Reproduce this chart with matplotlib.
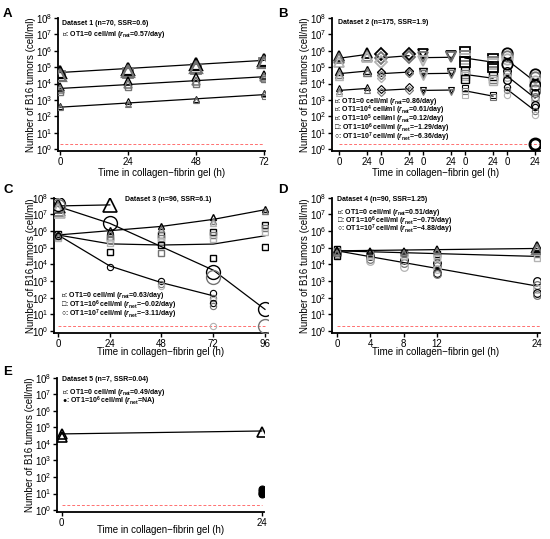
import numpy as np
import matplotlib
matplotlib.use('Agg')
import matplotlib.pyplot as plt
from matplotlib.ticker import FuncFormatter, NullLocator

plt.rcParams['font.family'] = ['Liberation Sans', 'DejaVu Sans']
plt.rcParams['mathtext.fontset'] = 'custom'
plt.rcParams['mathtext.rm'] = 'Liberation Sans'
plt.rcParams['mathtext.it'] = 'Liberation Sans:italic:bold'
plt.rcParams['mathtext.bf'] = 'Liberation Sans:bold'

# ---------------- data ----------------
DETECT = 2.0
# Panel A (Dataset 1)
A_times = [0, 24, 48, 72]
A_tri_hi = [[5e4, 3.5e4], [8e4, 5.5e4], [1.6e5, 1.0e5], [2.8e5, 2.0e5]]
A_sq_hi = [[2.8e4], [4.5e4], [8e4], [1.7e5]]
A_tri_mid = [[6e3, 4.5e3], [1.4e4, 1e4], [2.5e4, 1.5e4], [3.5e4, 2.6e4]]
A_sq_mid = [[3e3], [6e3], [9e3], [2e4]]
A_tri_lo = [[4.5e2, 3.5e2], [9e2, 6e2], [1.2e3, 1.0e3], [2.8e3, 2.2e3]]
A_sq_lo = [[3e2], [5.5e2], [9e2], [1.6e3]]
A_fit_t = [0, 72]
A_fit_hi = [4.7e4, 2.6e5]
A_fit_mid = [5.0e3, 2.6e4]
A_fit_lo = [3.6e2, 2.1e3]

# Panel B (Dataset 2): five conditions, each at 0 and 24 h
B_pos = [0, 24, 36, 60, 72, 96, 108, 132, 144, 168]
B_ticklabels = ['0', '24', '0', '24', '0', '24', '0', '24', '0', '24']
B_tri = [[[5e5, 3.5e5, 2e5], [7e5, 5e5, 4e5]],
         [[6e4, 4e4, 2.8e4], [7e4, 5e4]],
         [[5e3, 3.5e3, 2.5e3], [6e3, 4e3]]]
B_dia = [[[6e5, 3.5e5, 2e5], [6e5, 4e5]],
         [[5e4, 3.5e4, 2.3e4], [6e4, 4.5e4]],
         [[4.5e3, 3e3], [6e3, 4e3]]]
B_inv = [[[6e5, 4e5, 2.5e5], [5e5, 4e5]],
         [[5e4, 4e4, 3e4], [5e4, 4e4]],
         [[4e3, 3e3], [4e3, 3e3]]]
B_sq = [[[8e5, 5e5, 3e5, 2e5], [3e5, 2e5, 1.5e5, 1e5]],
        [[6e4, 4e4, 3e4, 2e4], [3e4, 2e4, 1.5e4]],
        [[5e3, 3.5e3, 2e3], [2e3, 1.5e3]]]
B_circ = [[[7e5, 5e5, 3e5, 1.5e5], [4e4, 2.5e4, 1.5e4, 8e3, 4e3]],
          [[6e4, 4e4, 2.5e4, 1.6e4], [2.5e3, 1.5e3, 1e3, 5e2]],
          [[6e3, 4e3, 2e3], [3.5e2, 2e2, 1.2e2]]]
B_circ_zero = [2.0]
B_fit_tri = [[3.5e5, 6e5], [4e4, 5.8e4], [3.8e3, 5e3]]
B_fit_dia = [[3.7e5, 5e5], [4e4, 5e4], [3.8e3, 4.7e3]]
B_fit_inv = [[3.8e5, 4e5], [4e4, 4.2e4], [3.8e3, 4e3]]
B_fit_sq = [[3.6e5, 2e5], [3.6e4, 2.1e4], [3.6e3, 1.7e3]]
B_fit_circ = [[2.8e5, 1.3e4], [2.9e4, 1.3e3], [4.5e3, 2.2e2]]

# Panel C (Dataset 3)
C_times = [0, 24, 48, 72, 96]
C_bigtri_t = [0, 24]
C_bigtri = [[3e7, 2e7, 1.5e7], [3.6e7]]
C_bigcirc = [[4e7, 3e7], [2.9e6], [], [3.5e3, 1.8e3], [2e1, 2]]
C_tri = [[7e5, 5e5], [1.2e6, 8e5], [2e6, 1.4e6], [7e6, 4e6, 3e6], [2.2e7, 1.5e7]]
C_sq = [[7e5, 5e5, 4e5], [4.5e5, 3e5, 2e5, 5.5e4], [5.5e5, 4e5, 2.5e5, 1.5e5, 5e4],
        [9e5, 6e5, 3.5e5, 2.5e4], [2.2e6, 1.5e6, 9e5, 1.1e5]]
C_circ = [[5e5], [7e3], [1e3, 7e2, 5e2], [2e2, 1e2, 7e1, 5e1, 3e1, 2], []]
C_fit_bigtri = [3.2e7, 3.7e7]
C_fit_bigcirc = [3e7, 2.9e6, 1.15e5, 4.5e3, 2e1]
C_fit_tri = [5.8e5, 1.05e6, 1.9e6, 5e6, 1.9e7]
C_fit_sq = [5.8e5, 1.7e5, 1.45e5, 1.65e5, 5.2e5]
C_fit_circ_t = [0, 24, 48, 72]
C_fit_circ = [5.8e5, 8e3, 8e2, 1.3e2]

# Panel D (Dataset 4)
D_times = [0, 4, 8, 12, 24]
D_tri = [[7e4, 5e4], [6e4], [6e4, 5e4], [8e4, 6e4], [1.1e5, 8e4]]
D_sq = [[8e4, 6e4, 4e4, 3e4], [5e4, 4e4, 3e4], [5e4, 4e4, 3e4], [4e4, 3e4, 2.5e4], [5e4, 4e4, 2.5e4]]
D_circ = [[5e4, 4e4], [3e4, 2e4, 1.5e4], [1.8e4, 1.2e4, 7e3], [1.2e4, 8e3, 5e3, 3e3, 2.5e3],
          [1e3, 6e2, 3.5e2, 2e2, 1.5e2]]
D_fit_t = [0, 24]
D_fit_tri = [6.5e4, 9e4]
D_fit_sq = [6.5e4, 3e4]
D_fit_circ = [6.5e4, 5e2]

# Panel E (Dataset 5)
E_times = [0, 24]
E_tri = [[4e4, 2.5e4], [5e4]]
E_dot_t = 24
E_dot = [2e1, 1.5e1, 1.1e1, 9]
E_fit = [4e4, 6e4]

GREYS = ['black', '0.45', '0.7']
XLABEL = 'Time in collagen\u2212fibrin gel (h)'
YLABEL = 'Number of B16 tumors (cell/ml)'
RNET = r'$r_{\mathbf{net}}$'


def reps(ax, times, groups, marker, ms, mew, colors=GREYS, fill='none'):
    for t, vals in zip(times, groups):
        for i, v in enumerate(vals):
            c = colors[i % len(colors)]
            ax.plot(t, v, ls='none', marker=marker, ms=ms,
                    mfc=(c if fill == 'same' else fill), mec=c, mew=mew, zorder=3)


def fit(ax, t, y):
    ax.plot(t, y, color='black', lw=0.9, zorder=2)


def setup(ax, xticks, xlabels, xlim, xdet, ylab_x, xlab_y):
    ax.set_yscale('log')
    ax.set_ylim(10 ** -0.1, 1e8)
    ax.set_yticks([10.0 ** k for k in range(9)])
    ax.yaxis.set_major_formatter(FuncFormatter(lambda v, p: r'$10^{%d}$' % round(np.log10(v))))
    ax.yaxis.set_minor_locator(NullLocator())
    ax.set_xticks(xticks)
    ax.set_xticklabels(xlabels)
    ax.set_xlim(*xlim)
    for s in ['top', 'right']:
        ax.spines[s].set_visible(False)
    for s in ['left', 'bottom']:
        ax.spines[s].set_linewidth(1.3)
    ax.tick_params(direction='out', length=3, width=1, labelsize=7, pad=1.2)
    ax.set_xlabel(XLABEL, fontsize=7)
    ax.set_ylabel(YLABEL, fontsize=7)
    ax.yaxis.set_label_coords(ylab_x, 0.5)
    ax.xaxis.set_label_coords(0.5, xlab_y)
    ax.plot(xdet, [DETECT, DETECT], color='#ff7070', ls=(0, (3, 2)), lw=0.7, zorder=1)


def note(ax, x, y, s, ha='left'):
    ax.text(x, y, s, transform=ax.transAxes, fontsize=5.0, fontweight='bold',
            va='center', ha=ha, family=['Liberation Sans', 'DejaVu Sans'])


fig = plt.figure(figsize=(5.5, 5.39), dpi=100)

# ---------------- A ----------------
axA = fig.add_axes([0.10636, 0.72041, 0.37636, 0.24620])
setup(axA, A_times, [str(t) for t in A_times], (-0.53, 72.53), [0, 72], -0.11, -0.128)
fit(axA, A_fit_t, A_fit_hi)
fit(axA, A_fit_t, A_fit_mid)
fit(axA, A_fit_t, A_fit_lo)
reps(axA, A_times, A_sq_hi, 's', 7, 1.3, ['0.45'])
reps(axA, A_times, A_tri_hi, '^', 9, 1.6)
reps(axA, A_times, A_sq_mid, 's', 4.5, 1.0, ['0.45'])
reps(axA, A_times, A_tri_mid, '^', 5.5, 1.1)
reps(axA, A_times, A_sq_lo, 's', 3.5, 0.8, ['0.45'])
reps(axA, A_times, A_tri_lo, '^', 4, 0.8)
note(axA, 0.015, 0.96, 'Dataset 1 (n=70, SSR=0.6)')
note(axA, 0.015, 0.877, '\u25b3: OT1=0 cell/ml (' + RNET + '=0.57/day)')

# ---------------- B ----------------
axB = fig.add_axes([0.60364, 0.72041, 0.37818, 0.24620])
setup(axB, B_pos, B_ticklabels, (-6, 172.3), [0, 172.3], -0.105, -0.128)
B_sets = [(B_tri, B_fit_tri, '^'), (B_dia, B_fit_dia, 'D'), (B_inv, B_fit_inv, 'v'),
          (B_sq, B_fit_sq, 's'), (B_circ, B_fit_circ, 'o')]
sizes = [(7.5, 1.3), (5.5, 1.0), (4.5, 0.8)]
for g, (reps_g, fit_g, mk) in enumerate(B_sets):
    tpair = B_pos[2 * g:2 * g + 2]
    for lvl in range(3):
        fit(axB, tpair, fit_g[lvl])
        ms, mew = sizes[lvl]
        if mk == 'D':
            ms *= 0.8
        reps(axB, tpair, reps_g[lvl], mk, ms, mew)
reps(axB, [B_pos[9]], [B_circ_zero], 'o', 8, 2.0)
note(axB, 0.027, 0.965, 'Dataset 2 (n=175, SSR=1.9)')
B_leg = ['\u25b3: OT1=0 cell/ml (' + RNET + '=0.86/day)',
         '\u25c7: OT1=10$^{\\mathbf{4}}$ cell/ml (' + RNET + '=0.61/day)',
         '\u25bd: OT1=10$^{\\mathbf{5}}$ cell/ml (' + RNET + '=0.12/day)',
         '\u25a1: OT1=10$^{\\mathbf{6}}$ cell/ml (' + RNET + '=\u22121.29/day)',
         '\u25cb: OT1=10$^{\\mathbf{7}}$ cell/ml (' + RNET + '=\u22126.36/day)']
for i, s in enumerate(B_leg):
    note(axB, 0.012, [0.3745, 0.302, 0.236, 0.170, 0.104][i], s)

# ---------------- C ----------------
axC = fig.add_axes([0.09818, 0.38275, 0.38909, 0.25046])
setup(axC, C_times, [str(t) for t in C_times], (-1.86, 97.4), [0, 96], -0.082, -0.108)
fit(axC, C_bigtri_t, C_fit_bigtri)
fit(axC, C_times, C_fit_bigcirc)
fit(axC, C_times, C_fit_tri)
fit(axC, C_times, C_fit_sq)
fit(axC, C_fit_circ_t, C_fit_circ)
reps(axC, C_times, C_sq, 's', 4.5, 1.0)
reps(axC, C_times, C_tri, '^', 4.5, 1.0)
reps(axC, C_times, C_circ, 'o', 4.5, 0.8)
reps(axC, C_bigtri_t, C_bigtri, '^', 10, 1.2)
reps(axC, C_times, C_bigcirc, 'o', 10, 1.0)
note(axC, 0.533, 0.983, 'Dataset 3 (n=96, SSR=6.1)', ha='center')
C_leg = ['\u25b3: OT1=0 cell/ml (' + RNET + '=0.63/day)',
         '\u25a1: OT1=10$^{\\mathbf{6}}$ cell/ml (' + RNET + '=\u22120.02/day)',
         '\u25cb: OT1=10$^{\\mathbf{7}}$ cell/ml (' + RNET + '=\u22123.11/day)']
for i, s in enumerate(C_leg):
    note(axC, 0.033, [0.274, 0.205, 0.136][i], s)

# ---------------- D ----------------
axD = fig.add_axes([0.60364, 0.38275, 0.37818, 0.25046])
setup(axD, D_times, [str(t) for t in D_times], (-0.6, 24.36), [0, 24.36], -0.105, -0.108)
fit(axD, D_fit_t, D_fit_tri)
fit(axD, D_fit_t, D_fit_sq)
fit(axD, D_fit_t, D_fit_circ)
reps(axD, D_times, D_circ, 'o', 5.5, 0.9)
reps(axD, D_times, D_sq, 's', 4.5, 1.0)
reps(axD, D_times[:4], D_tri[:4], '^', 5, 1.1)
reps(axD, D_times[4:], D_tri[4:], '^', 7.5, 1.4)
note(axD, 0.023, 0.983, 'Dataset 4 (n=90, SSR=1.25)')
D_leg = ['\u25b3: OT1=0 cell/ml (' + RNET + '=0.51/day)',
         '\u25a1: OT1=10$^{\\mathbf{6}}$ cell/ml (' + RNET + '=\u22120.75/day)',
         '\u25cb: OT1=10$^{\\mathbf{7}}$ cell/ml (' + RNET + '=\u22124.88/day)']
for i, s in enumerate(D_leg):
    note(axD, 0.023, [0.888, 0.825, 0.762][i], s)

# ---------------- E ----------------
axE = fig.add_axes([0.10364, 0.05065, 0.37636, 0.24861])
setup(axE, E_times, [str(t) for t in E_times], (-0.56, 24.28), [0, 24], -0.106, -0.1)
fit(axE, E_times, E_fit)
reps(axE, E_times, E_tri, '^', 6.5, 1.2, ['black'])
reps(axE, [E_dot_t], [E_dot], 'o', 5, 0.8, ['black'], fill='same')
note(axE, 0.023, 0.983, 'Dataset 5 (n=7, SSR=0.04)')
note(axE, 0.023, 0.89, '\u25b3: OT1=0 cell/ml (' + RNET + '=0.49/day)')
note(axE, 0.023, 0.82, '\u25cf: OT1=10$^{\\mathbf{6}}$ cell/ml (' + RNET + '=NA)')

for lab, x, y in [('A', 3, 8), ('B', 278, 8), ('C', 3, 184), ('D', 278, 184), ('E', 3, 366)]:
    fig.text(x / 550, 1 - y / 539, lab, fontsize=9.5, fontweight='bold', va='top', ha='left')

fig.savefig('out.png', dpi=100)
